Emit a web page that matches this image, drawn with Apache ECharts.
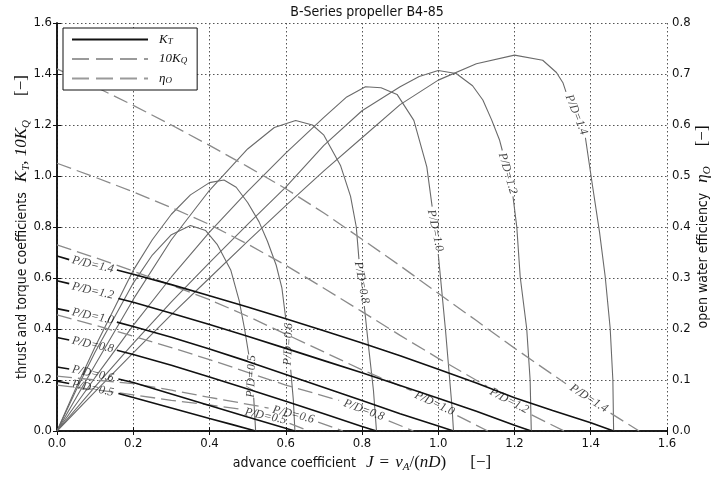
<!DOCTYPE html>
<html><head><meta charset="utf-8">
<script src="https://cdn.jsdelivr.net/npm/echarts@6/dist/echarts.min.js"></script>
<style>html,body{margin:0;padding:0;background:#fff}#c{width:713px;height:480px}</style>
</head><body><div id="c"></div>
<script>
// ---------- data ----------
const G = '-'; // gap in a curve (where the inline label sits)
const PD = ['0.5','0.6','0.8','1.0','1.2','1.4'];

// thrust coefficient K_T  [J, KT]
const KT_05 = [[0,0.195],[0.032,0.186],[0.09,G],[0.161,0.147],[0.2,0.131],[0.3,0.09],[0.4,0.049],[0.46,0.025],[0.521,0]];
const KT_06 = [[0,0.251],[0.032,0.243],[0.09,G],[0.161,0.204],[0.2,0.19],[0.3,0.145],[0.4,0.1],[0.5,0.055],[0.624,0]];
const KT_08 = [[0,0.367],[0.032,0.357],[0.09,G],[0.157,0.317],[0.2,0.3],[0.3,0.258],[0.4,0.212],[0.5,0.165],[0.6,0.117],[0.7,0.068],[0.8,0.018],[0.838,0]];
const KT_10 = [[0,0.48],[0.032,0.47],[0.09,G],[0.157,0.427],[0.2,0.41],[0.3,0.368],[0.4,0.322],[0.5,0.273],[0.6,0.222],[0.7,0.171],[0.8,0.12],[0.9,0.068],[1.0,0.02],[1.04,0]];
const KT_12 = [[0,0.589],[0.032,0.578],[0.09,G],[0.161,0.52],[0.2,0.505],[0.3,0.462],[0.4,0.418],[0.5,0.372],[0.6,0.324],[0.7,0.276],[0.8,0.228],[0.9,0.178],[1.0,0.128],[1.1,0.077],[1.2,0.023],[1.244,0]];
const KT_14 = [[0,0.686],[0.032,0.672],[0.09,G],[0.157,0.631],[0.2,0.615],[0.3,0.574],[0.4,0.53],[0.5,0.486],[0.6,0.44],[0.7,0.393],[0.8,0.345],[0.9,0.295],[1.0,0.242],[1.1,0.188],[1.2,0.13],[1.3,0.08],[1.4,0.032],[1.46,0]];

// torque coefficient 10 K_Q  [J, 10KQ]
const KQ_05 = [[0,0.18],[0.1,0.162],[0.2,0.142],[0.3,0.12],[0.4,0.102],[0.485,0.085],[0.55,G],[0.61,0.03],[0.66,0]];
const KQ_06 = [[0,0.215],[0.1,0.2],[0.2,0.186],[0.3,0.16],[0.4,0.132],[0.489,0.108],[0.555,0.09],[0.62,G],[0.685,0.035],[0.75,0]];
const KQ_08 = [[0,0.455],[0.1,0.415],[0.2,0.372],[0.3,0.327],[0.4,0.28],[0.5,0.23],[0.6,0.18],[0.74,0.12],[0.8,G],[0.87,0.04],[0.935,0]];
const KQ_10 = [[0,0.73],[0.1,0.68],[0.2,0.627],[0.3,0.572],[0.4,0.515],[0.5,0.45],[0.6,0.38],[0.7,0.31],[0.8,0.24],[0.93,0.158],[0.99,G],[1.05,0.06],[1.13,0]];
const KQ_12 = [[0,1.05],[0.1,0.995],[0.2,0.938],[0.3,0.876],[0.4,0.81],[0.5,0.733],[0.6,0.65],[0.7,0.56],[0.8,0.468],[0.9,0.375],[1.0,0.285],[1.128,0.175],[1.19,G],[1.245,0.063],[1.33,0]];
const KQ_14 = [[0,1.42],[0.1,1.35],[0.2,1.277],[0.3,1.2],[0.4,1.12],[0.5,1.037],[0.6,0.95],[0.7,0.855],[0.8,0.752],[0.9,0.648],[1.0,0.54],[1.1,0.433],[1.2,0.325],[1.335,0.185],[1.39,G],[1.452,0.07],[1.527,0]];

// open water efficiency eta_O  [J, eta]
const ETA_05 = [[0,0],[0.05,0.08],[0.1,0.155],[0.15,0.222],[0.2,0.29],[0.25,0.345],[0.3,0.385],[0.35,0.403],[0.39,0.393],[0.42,0.366],[0.456,0.315],[0.478,0.255],[0.492,0.2],[0.503,0.15],[0.51,G],[0.516,0.065],[0.521,0]];
const ETA_06 = [[0,0],[0.05,0.085],[0.1,0.165],[0.15,0.24],[0.2,0.315],[0.25,0.375],[0.3,0.425],[0.35,0.463],[0.4,0.487],[0.438,0.492],[0.47,0.478],[0.5,0.448],[0.53,0.41],[0.552,0.372],[0.575,0.325],[0.59,0.28],[0.6,0.22],[0.607,G],[0.613,0.12],[0.62,0.06],[0.624,0]];
const ETA_08 = [[0,0],[0.1,0.13],[0.2,0.258],[0.3,0.375],[0.4,0.472],[0.5,0.553],[0.57,0.595],[0.626,0.609],[0.67,0.6],[0.7,0.58],[0.744,0.52],[0.77,0.46],[0.785,0.4],[0.792,0.337],[0.8,G],[0.806,0.245],[0.818,0.16],[0.83,0.08],[0.838,0]];
const ETA_10 = [[0,0],[0.1,0.105],[0.2,0.207],[0.3,0.302],[0.4,0.39],[0.5,0.47],[0.6,0.545],[0.7,0.615],[0.76,0.655],[0.809,0.675],[0.85,0.673],[0.892,0.66],[0.936,0.609],[0.97,0.518],[0.984,0.44],[0.992,G],[1.0,0.347],[1.019,0.198],[1.036,0.048],[1.04,0]];
const ETA_12 = [[0,0],[0.1,0.087],[0.2,0.172],[0.3,0.253],[0.4,0.33],[0.5,0.405],[0.6,0.478],[0.7,0.56],[0.8,0.628],[0.9,0.675],[0.95,0.695],[1.0,0.707],[1.047,0.701],[1.09,0.677],[1.117,0.649],[1.14,0.61],[1.161,0.57],[1.168,0.55],[1.182,G],[1.196,0.46],[1.206,0.4],[1.215,0.302],[1.232,0.201],[1.241,0.1],[1.244,0]];
const ETA_14 = [[0,0],[0.1,0.077],[0.2,0.153],[0.3,0.228],[0.4,0.3],[0.5,0.372],[0.6,0.442],[0.7,0.51],[0.8,0.575],[0.9,0.64],[1.0,0.688],[1.1,0.72],[1.2,0.737],[1.274,0.727],[1.31,0.703],[1.327,0.683],[1.335,0.665],[1.362,G],[1.386,0.575],[1.405,0.479],[1.423,0.39],[1.438,0.302],[1.451,0.201],[1.458,0.1],[1.46,0]];

// inline label anchors [J, value] in the same order as PD
const KT_LABEL_AT  = [[0.094,0.167],[0.094,0.225],[0.094,0.338],[0.094,0.45],[0.094,0.549],[0.094,0.652]];
const KQ_LABEL_AT  = [[0.547,0.058],[0.62,0.064],[0.805,0.082],[0.99,0.108],[1.186,0.118],[1.395,0.128]];
const ETA_LABEL_AT = [[0.51,0.107],[0.607,0.17],[0.799,0.291],[0.992,0.393],[1.182,0.505],[1.362,0.62]];

const X_TICK_LABELS = ['0.0','0.2','0.4','0.6','0.8','1.0','1.2','1.4','1.6'];
const TITLE = 'B-Series propeller B4-85';

// ---------- styling / option building ----------
const KT_ALL = [KT_05,KT_06,KT_08,KT_10,KT_12,KT_14];
const KQ_ALL = [KQ_05,KQ_06,KQ_08,KQ_10,KQ_12,KQ_14];
const ETA_ALL = [ETA_05,ETA_06,ETA_08,ETA_10,ETA_12,ETA_14];
const KT_ROT  = [-12,-12,-12,-12,-13,-13];
const KQ_ROT  = [-12,-14,-20,-25,-28,-33];
const ETA_ROT = [88,88,-80,-78,-74,-68];

const SANS = "'Liberation Sans Narrow','Arial Narrow','DejaVu Sans Condensed','Liberation Sans',sans-serif";
const SERIF = "'Liberation Serif','DejaVu Serif',serif";
const KT_STYLE  = {color:'#111', width:1.6, type:'solid'};
const KQ_STYLE  = {color:'#8a8a8a', width:1.3, type:[15,6]};
const ETA_STYLE = {color:'#6a6a6a', width:1.1, type:'solid'};
const MATH = {fontFamily:SERIF, fontStyle:'italic', fontSize:17, color:'#111', lineHeight:20};
const UP = {fontFamily:SERIF, fontSize:17, color:'#111', lineHeight:20};
const rich = {
  t:{fontFamily:SANS, fontSize:14, color:'#111', lineHeight:20},
  m:MATH,
  m1:Object.assign({}, MATH, {padding:[0,0,0,10]}),
  r:UP,
  eq:Object.assign({}, UP, {padding:[0,6,0,6]}),
  s:{fontFamily:SERIF, fontStyle:'italic', fontSize:11, color:'#111', verticalAlign:'bottom'},
  b:Object.assign({}, UP, {padding:[0,0,0,24]}),
  bl:Object.assign({}, UP, {padding:[0,0,0,24]}),
  br:Object.assign({}, UP, {padding:[0,0,0,20]})
};

const series = [];
function addLines(all, style, yIdx, z, tag){
  all.forEach((d,i)=>series.push({
    type:'line', name:tag+PD[i], data:d, xAxisIndex:0, yAxisIndex:yIdx,
    symbol:'none', showSymbol:false, connectNulls:false, silent:true, z:z,
    lineStyle:style, itemStyle:{color:style.color}, emphasis:{disabled:true}
  }));
}
addLines(ETA_ALL, ETA_STYLE, 1, 2, 'eta');
addLines(KQ_ALL, KQ_STYLE, 0, 3, 'kq');
addLines(KT_ALL, KT_STYLE, 0, 4, 'kt');

function addLabels(at, rots, yIdx){
  series.push({
    type:'scatter', xAxisIndex:0, yAxisIndex:yIdx, symbolSize:1, silent:true, z:6,
    itemStyle:{color:'rgba(0,0,0,0)'},
    data: at.map((p,i)=>({name:'P/D='+PD[i], value:p, label:{rotate:rots[i]}})),
    label:{show:true, position:'inside', formatter:'{b}', align:'center', verticalAlign:'middle',
      fontFamily:SERIF, fontStyle:'italic', fontSize:12, color:'#111'}
  });
}
addLabels(KT_LABEL_AT, KT_ROT, 0);
addLabels(KQ_LABEL_AT, KQ_ROT, 0);
addLabels(ETA_LABEL_AT, ETA_ROT, 1);

// legend-only entries
series.push({type:'line', name:'KT', data:[], symbol:'none', lineStyle:{color:'#111', width:1.6}, itemStyle:{color:'#111'}});
series.push({type:'line', name:'KQ', data:[], symbol:'none', lineStyle:{color:'#9a9a9a', width:1.4, type:[17,7]}, itemStyle:{color:'#9a9a9a'}});
series.push({type:'line', name:'ETA', data:[], symbol:'none', lineStyle:{color:'#9a9a9a', width:1.4, type:[17,7]}, itemStyle:{color:'#9a9a9a'}});

const LEGEND_TEXT = {KT:'{m|K}{s|T}', KQ:'{m|10K}{s|Q}', ETA:'{m|η}{s|O}'};
const axisLine = {show:true, lineStyle:{color:'#111', width:1.5}};
const tick = {show:true, inside:true, length:4, lineStyle:{color:'#111'}};
const grid = {show:true, lineStyle:{color:'#555', width:1, type:[1.5,2.5]}};
const tickLabel = {fontFamily:SANS, fontSize:13, color:'#111'};

const option = {
  animation:false,
  backgroundColor:'#fff',
  title:{text:TITLE, left:362, top:0, textAlign:'center',
    textStyle:{fontFamily:SANS, fontSize:14, fontWeight:'normal', color:'#111'}},
  legend:{data:['KT','KQ','ETA'], orient:'vertical', left:63, top:28,
    padding:[5,10,5,8], itemGap:6.5, itemWidth:76, itemHeight:14,
    backgroundColor:'#fff', borderColor:'#111', borderWidth:1, z:10,
    selectedMode:false, itemStyle:{opacity:0, borderWidth:0},
    formatter:n=>LEGEND_TEXT[n],
    textStyle:{rich:{m:{fontFamily:SERIF, fontStyle:'italic', fontSize:13, color:'#111', padding:[0,0,0,6]},
                     s:{fontFamily:SERIF, fontStyle:'italic', fontSize:9, color:'#111', verticalAlign:'bottom'}}}},
  grid:{left:57, right:46, top:23, bottom:49, containLabel:false, outerBoundsMode:'none'},
  xAxis:[
    {type:'value', min:0, max:1.6, interval:0.2, position:'bottom',
     axisLine:axisLine, axisTick:tick, splitLine:grid,
     axisLabel:Object.assign({margin:6, formatter:(v)=>X_TICK_LABELS[Math.round(v/0.2)]}, tickLabel),
     name:'{t|advance coefficient}{m1|J}{eq|=}{m|v}{s|A}{r|/(}{m|nD}{r|)}{b|[−]}',
     nameLocation:'middle', nameGap:22, nameMoveOverlap:false, nameTextStyle:{rich:rich}},
    {type:'value', min:0, max:1.6, interval:0.2, position:'top',
     axisLine:axisLine, axisTick:tick, splitLine:{show:false}, axisLabel:{show:false}}
  ],
  yAxis:[
    {type:'value', min:0, max:1.6, interval:0.2, position:'left',
     axisLine:axisLine, axisTick:tick, splitLine:grid,
     axisLabel:Object.assign({margin:5, formatter:(v)=>v.toFixed(1)}, tickLabel),
     name:'{t|thrust and torque coefficients}{m1|K}{s|T}{m|, 10K}{s|Q}{bl|[−]}',
     nameLocation:'middle', nameRotate:90, nameGap:25, nameMoveOverlap:false, nameTextStyle:{rich:rich}},
    {type:'value', min:0, max:0.8, interval:0.1, position:'right',
     axisLine:axisLine, axisTick:tick, splitLine:{show:false},
     axisLabel:Object.assign({margin:5, formatter:(v)=>v.toFixed(1)}, tickLabel),
     name:'{t|open water efficiency}{m1|η}{s|O}{br|[−]}',
     nameLocation:'middle', nameRotate:90, nameGap:26, nameMoveOverlap:false, nameTextStyle:{rich:rich}}
  ],
  series:series
};
const chart = echarts.init(document.getElementById('c'), null, {renderer:'canvas'});
chart.setOption(option);
</script>
</body></html>
